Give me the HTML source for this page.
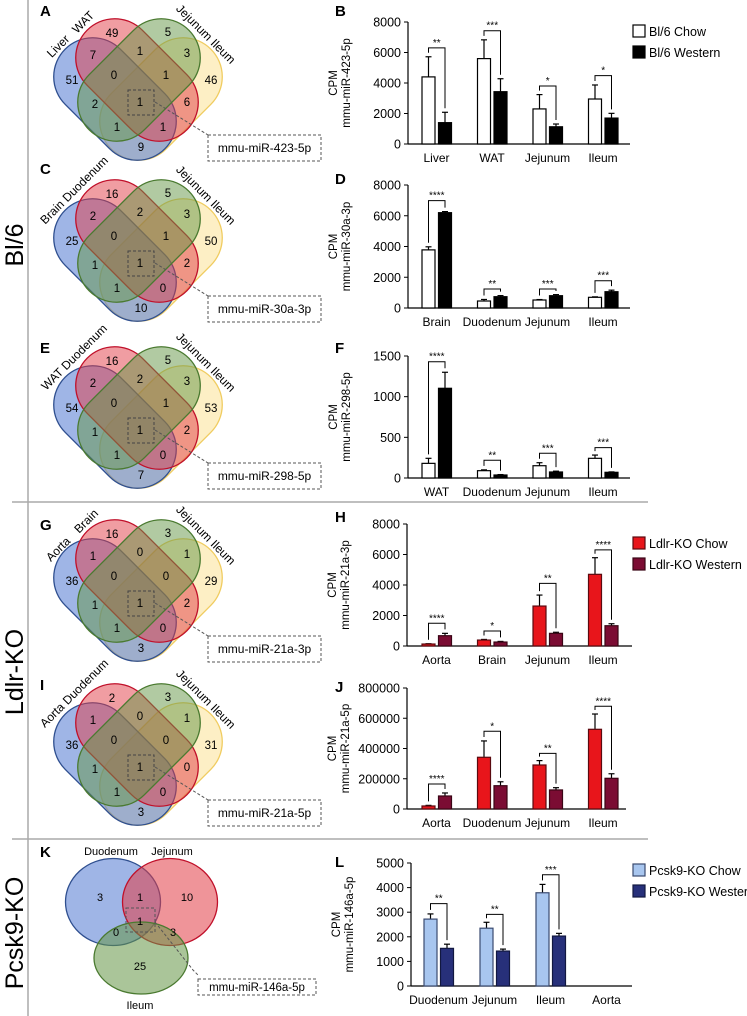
<!DOCTYPE html>
<html><head><meta charset="utf-8"><style>
html,body{margin:0;padding:0;background:#fff;}
svg{display:block;font-family:"Liberation Sans",Arial,sans-serif;}
</style></head><body>
<svg id="fig" width="747" height="1016" viewBox="0 0 747 1016" xmlns="http://www.w3.org/2000/svg">
<line x1="28" y1="0" x2="28" y2="1016" stroke="#aaa" stroke-width="1.5"/>
<line x1="12" y1="502" x2="648" y2="502" stroke="#aaa" stroke-width="1.5"/>
<line x1="12" y1="839" x2="648" y2="839" stroke="#aaa" stroke-width="1.5"/>
<text transform="translate(23,245) rotate(-90)" text-anchor="middle" font-size="25">Bl/6</text>
<text transform="translate(23,672) rotate(-90)" text-anchor="middle" font-size="25">Ldlr-KO</text>
<text transform="translate(23,933) rotate(-90)" text-anchor="middle" font-size="25">Pcsk9-KO</text>
<g font-weight="bold" font-size="15">
<text x="40" y="16">A</text>
<text x="335" y="16">B</text>
<text x="40" y="174">C</text>
<text x="335" y="184">D</text>
<text x="40" y="353">E</text>
<text x="335" y="353">F</text>
<text x="40" y="530">G</text>
<text x="335" y="522">H</text>
<text x="40" y="690">I</text>
<text x="335" y="692">J</text>
<text x="40" y="857">K</text>
<text x="335" y="867">L</text>
</g>
<!-- Venn K -->
<g>
<ellipse cx="113" cy="902" rx="47.5" ry="43.5" fill="rgba(80,120,210,0.55)" stroke="#2f4f8f" stroke-width="1.3"/>
<ellipse cx="170" cy="902" rx="47.5" ry="43.5" fill="rgba(225,60,70,0.55)" stroke="#c0102a" stroke-width="1.3"/>
<ellipse cx="141" cy="958" rx="47" ry="36" fill="rgba(100,150,70,0.55)" stroke="#4a7a30" stroke-width="1.3"/>
<g font-size="11" text-anchor="middle">
<text x="100" y="901">3</text>
<text x="140" y="901">1</text>
<text x="187" y="901">10</text>
<text x="140" y="925">1</text>
<text x="116" y="936">0</text>
<text x="173" y="936">3</text>
<text x="140" y="970">25</text>
<text x="111" y="855">Duodenum</text>
<text x="172" y="855">Jejunum</text>
<text x="140" y="1009">Ileum</text>
</g>
<rect x="126" y="908" width="29" height="24" fill="none" stroke="#555" stroke-dasharray="3,2"/>
<polyline points="155,922 193,970 198,975" fill="none" stroke="#555" stroke-dasharray="3,2"/>
<rect x="198" y="979" width="118" height="16" fill="#fff" stroke="#555" stroke-dasharray="3,2"/>
<text x="257" y="991" text-anchor="middle" font-size="11.5">mmu-miR-146a-5p</text>
</g>
<g id="charts"></g>
<g id="venns"></g>
</svg>
<script>
// ---- Venn data ----
const vennACounts = [49,5,7,1,3,51,0,1,46,2,1,6,1,1,9];
const vennCCounts = [16,5,2,2,3,25,0,1,50,1,1,2,1,0,10];
const vennECounts = [16,5,2,2,3,54,0,1,53,1,1,2,1,0,7];
const vennGCounts = [16,3,1,0,1,36,0,0,29,1,1,2,1,0,3];
const vennICounts = [2,3,1,0,1,36,0,0,31,1,1,0,1,0,3];

// ---- Chart B ----
const bCategories = ["Liver","WAT","Jejunum","Ileum"];
const bChow = [4400,5600,2300,2950];
const bChowErr = [1320,1230,940,920];
const bWestern = [1400,3430,1130,1700];
const bWesternErr = [680,850,180,310];
const bSigLevel = [6300,7430,3800,4480];
const bSigLabel = ["**","***","*","*"];
const bTicks = [0,2000,4000,6000,8000];
// ---- Chart D ----
const dCategories = ["Brain","Duodenum","Jejunum","Ileum"];
const dChow = [3780,455,520,695];
const dChowErr = [200,100,30,30];
const dWestern = [6200,735,800,1060];
const dWesternErr = [70,70,70,100];
const dSigLevel = [6980,1235,1235,1775];
const dSigLabel = ["****","**","***","***"];
const dTicks = [0,2000,4000,6000,8000];
// ---- Chart F ----
const fCategories = ["WAT","Duodenum","Jejunum","Ileum"];
const fChow = [180,90,151,242];
const fChowErr = [62,10,37,40];
const fWestern = [1103,37,74,70];
const fWesternErr = [197,5,10,5];
const fSigLevel = [1430,218,304,373];
const fSigLabel = ["****","**","***","***"];
const fTicks = [0,500,1000,1500];
// ---- Chart H ----
const hCategories = ["Aorta","Brain","Jejunum","Ileum"];
const hChow = [130,390,2620,4700];
const hChowErr = [20,40,720,1090];
const hWestern = [675,260,830,1330];
const hWesternErr = [155,40,70,130];
const hSigLevel = [1490,980,4110,6300];
const hSigLabel = ["****","*","**","****"];
const hTicks = [0,2000,4000,6000,8000];
// ---- Chart J ----
const jCategories = ["Aorta","Duodenum","Jejunum","Ileum"];
const jChow = [20000,342000,291000,527000];
const jChowErr = [4000,108000,29000,101000];
const jWestern = [86000,154000,126000,203000];
const jWesternErr = [20000,26000,15000,30000];
const jSigLevel = [165000,514000,368000,679000];
const jSigLabel = ["****","*","**","****"];
const jTicks = [0,200000,400000,600000,800000];
// ---- Chart L ----
const lCategories = ["Duodenum","Jejunum","Ileum","Aorta"];
const lChow = [2720,2350,3790,null];
const lChowErr = [210,240,340,null];
const lWestern = [1530,1420,2030,null];
const lWesternErr = [170,80,110,null];
const lSigLevel = [3350,2910,4520,null];
const lSigLabel = ["**","**","***",""];
const lTicks = [0,1000,2000,3000,4000,5000];

const NS = "http://www.w3.org/2000/svg";
function mk(tag, attrs, parent, txt){
  const e = document.createElementNS(NS, tag);
  for (const k in attrs) e.setAttribute(k, attrs[k]);
  if (txt !== undefined) e.textContent = txt;
  parent.appendChild(e);
  return e;
}

function drawChart(p, cats, chow, chowErr, west, westErr, sigLvl, sigLab, ticks){
  const root = document.getElementById('charts');
  const g = mk('g', {}, root);
  
  
  const max = ticks[ticks.length-1];
  const Y = v => p.y0 - v / max * (p.y0 - p.ytop);
  const cx = i => p.c0 + i * p.step;
  const ya = mk('line', {x1:p.x0, y1:p.ytop, x2:p.x0, y2:p.y0, stroke:'#000','stroke-width':1.2}, g);
  
  
  const xa = mk('line', {x1:p.x0, y1:p.y0, x2:p.xEnd, y2:p.y0, stroke:'#000','stroke-width':1.2}, g);
  
  
  ticks.forEach(t => {
    const tk = mk('line', {x1:p.x0-4, y1:Y(t), x2:p.x0, y2:Y(t), stroke:'#000'}, g);
    
    
    const tl = mk('text', {x:p.x0-7, y:Y(t)+4.5, 'text-anchor':'end','font-size':12.5}, g, String(t));
    
    
  });
  const ym = (p.y0 + p.ytop)/2;
  const t1 = mk('text', {transform:`translate(${p.x0-71},${ym}) rotate(-90)`, 'text-anchor':'middle','font-size':11.5}, g, 'CPM');
  
  
  const t2 = mk('text', {transform:`translate(${p.x0-58},${ym}) rotate(-90)`, 'text-anchor':'middle','font-size':11.5}, g, p.title);
  
  
  cats.forEach((c, i) => {
    const cl = mk('text', {x:cx(i), y:p.y0+18, 'text-anchor':'middle','font-size':12}, g, c);
    
    
    if (chow[i] === null) return;
    const cc = cx(i) - 8, wc = cx(i) + 8.5;
    [[cc, chow[i], chowErr[i]], [wc, west[i], westErr[i]]].forEach(([x, v, e]) => {
      const el = mk('line', {x1:x, y1:Y(v), x2:x, y2:Y(v+e), stroke:'#000','stroke-width':1.2}, g);
      
      
      const ec = mk('line', {x1:x-3, y1:Y(v+e), x2:x+3, y2:Y(v+e), stroke:'#000','stroke-width':1.2}, g);
      
      
    });
    const b1 = mk('rect', {x:cc-6.5, y:Y(chow[i]), width:13, height:p.y0-Y(chow[i]), fill:p.c1, stroke:p.s1,'stroke-width':1.2}, g);
    
    
    const b2 = mk('rect', {x:wc-6.5, y:Y(west[i]), width:13, height:p.y0-Y(west[i]), fill:p.c2, stroke:p.s2,'stroke-width':1.2}, g);
    
    
    const by = Y(sigLvl[i]);
    const l1 = Math.max(by+2, Y(chow[i]+chowErr[i]) - 4);
    const l2 = Math.max(by+2, Y(west[i]+westErr[i]) - 4);
    const br = mk('polyline', {points:`${cc},${l1} ${cc},${by} ${wc},${by} ${wc},${l2}`, fill:'none', stroke:'#000','stroke-width':1}, g);
    
    
    const st = mk('text', {x:(cc+wc)/2, y:by-2, 'text-anchor':'middle','font-size':10}, g, sigLab[i]);
    
    
  });
  if (p.legend){
    p.legend.forEach((lab, k) => {
      const lb = mk('rect', {x:633, y:p.ly + k*21, width:12, height:12, fill:k?p.c2:p.c1, stroke:k?p.s2:p.s1,'stroke-width':1.2}, g);
      
      
      const lt = mk('text', {x:649, y:p.ly + k*21 + 11, 'font-size':12.5}, g, lab);
      
      
    });
  }
}

const bw = {c1:'#fff', s1:'#000', c2:'#000', s2:'#000'};
const rd = {c1:'#e8151b', s1:'#5a0a10', c2:'#7b0c33', s2:'#3a0515'};
const bl = {c1:'#a8c6ef', s1:'#3a4a70', c2:'#27307a', s2:'#121840'};
drawChart(Object.assign({name:'chart-b', x0:408, xEnd:630, y0:144, ytop:22, c0:436.5, step:55.5, title:'mmu-miR-423-5p', legend:['Bl/6 Chow','Bl/6 Western'], ly:25}, bw), bCategories, bChow, bChowErr, bWestern, bWesternErr, bSigLevel, bSigLabel, bTicks);
drawChart(Object.assign({name:'chart-d', x0:408, xEnd:630, y0:308, ytop:185, c0:436.5, step:55.5, title:'mmu-miR-30a-3p'}, bw), dCategories, dChow, dChowErr, dWestern, dWesternErr, dSigLevel, dSigLabel, dTicks);
drawChart(Object.assign({name:'chart-f', x0:408, xEnd:630, y0:478, ytop:356, c0:436.5, step:55.5, title:'mmu-miR-298-5p'}, bw), fCategories, fChow, fChowErr, fWestern, fWesternErr, fSigLevel, fSigLabel, fTicks);
drawChart(Object.assign({name:'chart-h', x0:407, xEnd:632, y0:646, ytop:524, c0:436.5, step:55.5, title:'mmu-miR-21a-3p', legend:['Ldlr-KO Chow','Ldlr-KO Western'], ly:537}, rd), hCategories, hChow, hChowErr, hWestern, hWesternErr, hSigLevel, hSigLabel, hTicks);
drawChart(Object.assign({name:'chart-j', x0:407, xEnd:626, y0:809, ytop:688, c0:436.5, step:55.5, title:'mmu-miR-21a-5p'}, rd), jCategories, jChow, jChowErr, jWestern, jWesternErr, jSigLevel, jSigLabel, jTicks);
drawChart(Object.assign({name:'chart-l', x0:411, xEnd:632, y0:986, ytop:863, c0:438.5, step:56, title:'mmu-miR-146a-5p', legend:['Pcsk9-KO Chow','Pcsk9-KO Western'], ly:864}, bl), lCategories, lChow, lChowErr, lWestern, lWesternErr, lSigLevel, lSigLabel, lTicks);

// ---- Venns ----
const countPos = [[112,37],[168,36],[93,59],[140,55],[187,57],[72,84],[114,79],[166,79],[211,84],[95,108],[140,106],[187,106],[117,131],[163,131],[141,151]];
function drawVenn(name, dy, counts, leftLabels, mirna){
  const root = document.getElementById('venns');
  const g = mk('g', {transform:`translate(0,${dy})`}, root);
  
  
  const sets = [
    [161,99,-45,'rgba(250,215,110,0.4)','#f0cc60'],
    [115,99,45,'rgba(80,120,210,0.55)','#2f4f8f'],
    [137,80,45,'rgba(225,60,70,0.5)','#c0102a'],
    [139,80,-45,'rgba(100,150,70,0.5)','#4a7a30']
  ];
  sets.forEach(s => {
    const r = mk('rect', {x:-70.5, y:-39, width:141, height:78, rx:39, ry:39, transform:`translate(${s[0]},${s[1]}) rotate(${s[2]})`, fill:s[3], stroke:s[4], 'stroke-width':1.3}, g);
    
    
  });
  counts.forEach((c, i) => {
    const t = mk('text', {x:countPos[i][0], y:countPos[i][1], 'text-anchor':'middle','font-size':11.5}, g, String(c));
    
    
  });
  leftLabels.forEach(l => {
    const t = mk('text', {transform:`translate(${l[1]},${l[2]}) rotate(-45)`, 'text-anchor':'middle','font-size':12}, g, l[0]);
    
    
  });
  const rl = mk('text', {transform:'translate(203,37) rotate(45)', 'text-anchor':'middle','font-size':12}, g, 'Jejunum  Ileum');
  
  
  const hb = mk('rect', {x:128, y:90, width:26, height:25, fill:'none', stroke:'#444','stroke-dasharray':'3,2'}, g);
  
  
  const ld = mk('line', {x1:155, y1:102, x2:208, y2:135, stroke:'#555','stroke-dasharray':'3,2'}, g);
  
  
  const bx = mk('rect', {x:208, y:135, width:113, height:26, fill:'#fff', stroke:'#555','stroke-dasharray':'3,2'}, g);
  
  
  const bt = mk('text', {x:264.5, y:152, 'text-anchor':'middle','font-size':12}, g, mirna);
  
  
}
drawVenn('venn-a', 0, vennACounts, [['Liver',61,49],['WAT',86,25]], 'mmu-miR-423-5p');
drawVenn('venn-c', 161, vennCCounts, [['Brain Duodenum',77,32]], 'mmu-miR-30a-3p');
drawVenn('venn-e', 328, vennECounts, [['WAT Duodenum',77,32]], 'mmu-miR-298-5p');
drawVenn('venn-g', 501, vennGCounts, [['Aorta',61,51],['Brain',89,23]], 'mmu-miR-21a-3p');
drawVenn('venn-i', 665, vennICounts, [['Aorta Duodenum',77,31]], 'mmu-miR-21a-5p');
</script>
</body></html>
